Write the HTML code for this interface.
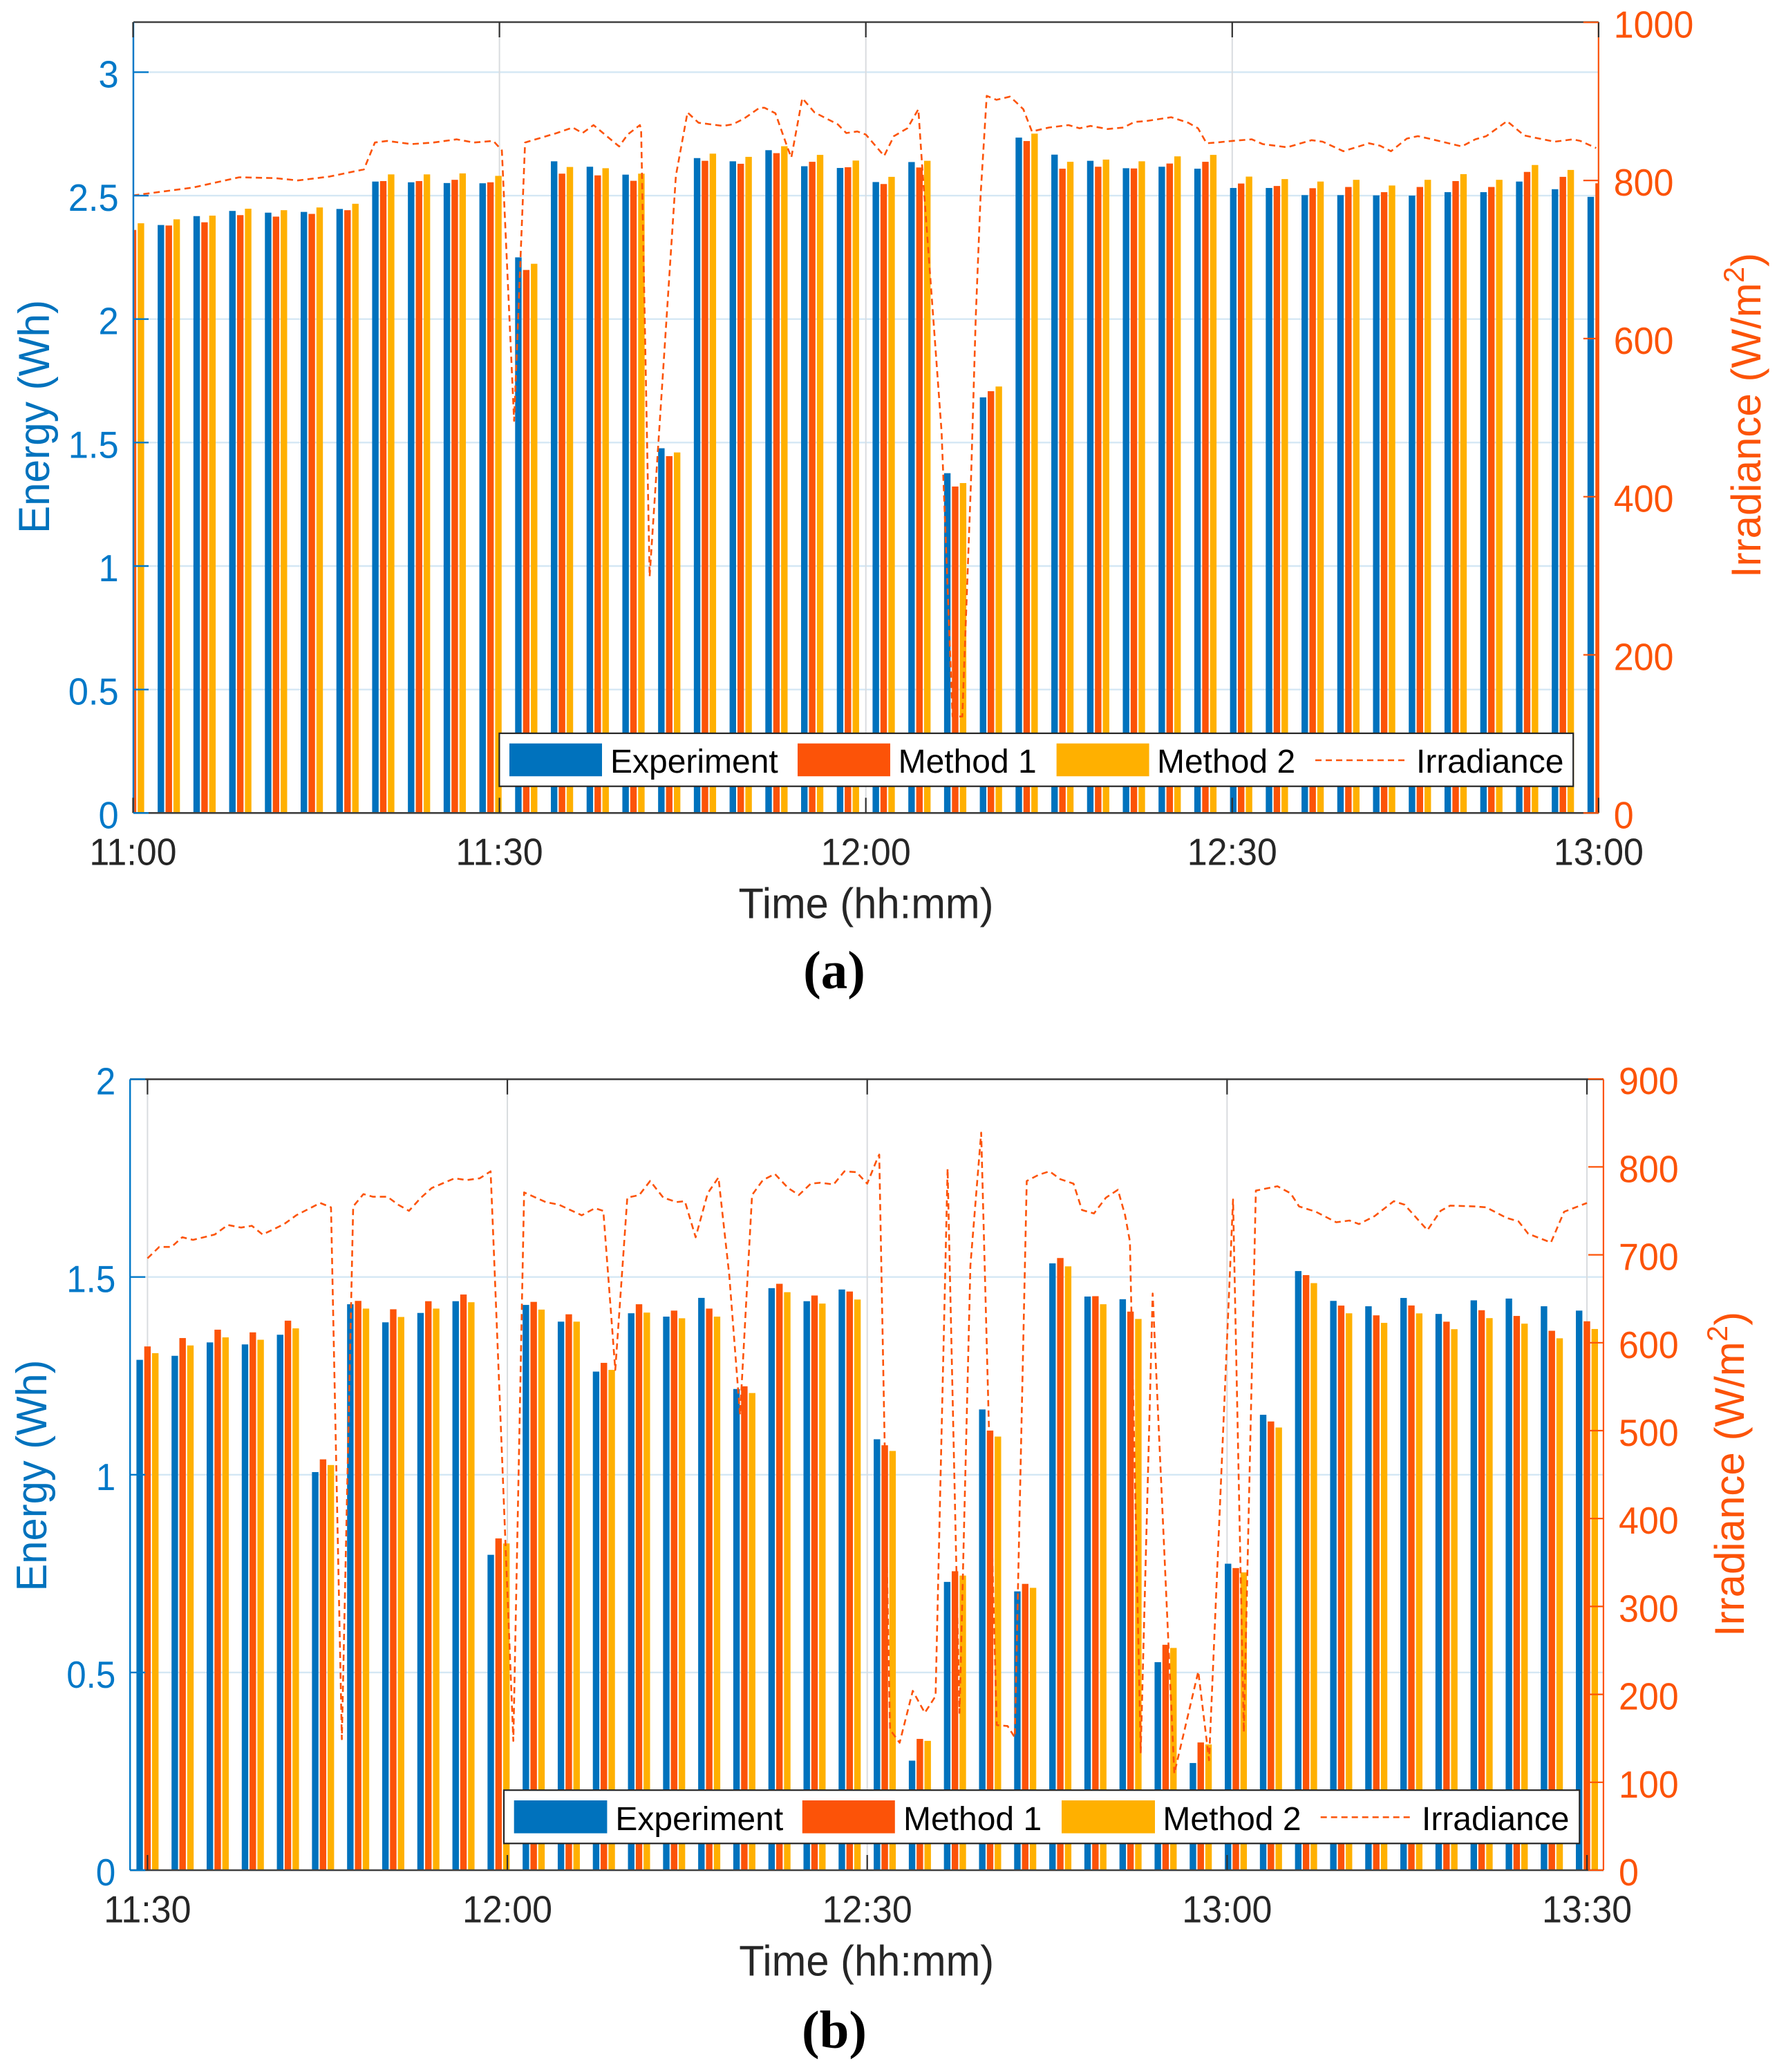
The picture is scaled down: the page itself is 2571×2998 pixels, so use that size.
<!DOCTYPE html>
<html lang="en">
<head>
<meta charset="utf-8">
<title>Energy and irradiance charts</title>
<style>
html,body{margin:0;padding:0;background:#fff;}
svg{display:block;font-family:"Liberation Sans",sans-serif;}
</style>
</head>
<body>
<svg id="figure" xmlns="http://www.w3.org/2000/svg" width="2571" height="2998" viewBox="0 0 2571 2998">
  <rect x="0" y="0" width="2571" height="2998" fill="#fff"/>
  <defs>
    <clipPath id="clip-a"><rect x="192.5" y="32" width="2120.5" height="1144.3"/></clipPath>
    <clipPath id="clip-b"><rect x="188.2" y="1561.6" width="2131.7" height="1144.4"/></clipPath>
  </defs>

  <g id="chart-a"></g>
  <g>
    <text transform="translate(71 603) rotate(-90)" text-anchor="middle" font-size="63" textLength="338" lengthAdjust="spacingAndGlyphs" fill="#0072BD">Energy (Wh)</text>
    <text transform="translate(2547 836) rotate(-90)" font-size="60" fill="#FC5308">Irradiance (W/m<tspan font-size="42" dy="-24">2</tspan><tspan dy="24">)</tspan></text>
    <text x="1253" y="1328.7" text-anchor="middle" font-size="62" textLength="369" lengthAdjust="spacingAndGlyphs" fill="#262626">Time (hh:mm)</text>
    <text x="1207" y="1429.5" text-anchor="middle" font-size="77" fill="#000" style="font-family:'Liberation Serif',serif;font-weight:bold">(a)</text>
  </g>
  <g>
    <rect x="722.4" y="1061" width="1553.8" height="76.7" fill="#fff" stroke="#262626" stroke-width="2.2"/>
    <rect x="737" y="1075.7" width="134" height="47.5" fill="#0072BD"/>
    <text x="883" y="1118" font-size="48" fill="#000">Experiment</text>
    <rect x="1154" y="1075.7" width="134" height="47.5" fill="#FC5308"/>
    <text x="1299.6" y="1118" font-size="48" fill="#000">Method 1</text>
    <rect x="1528.6" y="1075.7" width="134" height="47.5" fill="#FFB000"/>
    <text x="1674" y="1118" font-size="48" fill="#000">Method 2</text>
    <line x1="1903" y1="1100" x2="2033" y2="1100" stroke="#FC5308" stroke-width="2.5" stroke-dasharray="9 6"/>
    <text x="2049" y="1118" font-size="48" fill="#000">Irradiance</text>
  </g>

  <g id="chart-b"></g>
  <g>
    <text transform="translate(67 2135) rotate(-90)" text-anchor="middle" font-size="62" textLength="335" lengthAdjust="spacingAndGlyphs" fill="#0072BD">Energy (Wh)</text>
    <text transform="translate(2523 2368) rotate(-90)" font-size="60" fill="#FC5308">Irradiance (W/m<tspan font-size="42" dy="-24">2</tspan><tspan dy="24">)</tspan></text>
    <text x="1253.7" y="2858.7" text-anchor="middle" font-size="62" textLength="369" lengthAdjust="spacingAndGlyphs" fill="#262626">Time (hh:mm)</text>
    <text x="1207" y="2963" text-anchor="middle" font-size="77" fill="#000" style="font-family:'Liberation Serif',serif;font-weight:bold">(b)</text>
  </g>
  <g>
    <rect x="729" y="2590.2" width="1556.3" height="77.1" fill="#fff" stroke="#262626" stroke-width="2.2"/>
    <rect x="743.7" y="2605" width="134.7" height="47.6" fill="#0072BD"/>
    <text x="890.4" y="2648" font-size="48" fill="#000">Experiment</text>
    <rect x="1160.8" y="2605" width="134" height="47.6" fill="#FC5308"/>
    <text x="1307" y="2648" font-size="48" fill="#000">Method 1</text>
    <rect x="1536" y="2605" width="135" height="47.6" fill="#FFB000"/>
    <text x="1682.4" y="2648" font-size="48" fill="#000">Method 2</text>
    <line x1="1910.7" y1="2629.4" x2="2041.6" y2="2629.4" stroke="#FC5308" stroke-width="2.5" stroke-dasharray="9 6"/>
    <text x="2057" y="2648" font-size="48" fill="#000">Irradiance</text>
  </g>
</svg>

<script>
// ---------- Chart (a) data ----------
const aExperiment = [2.37,2.381,2.417,2.438,2.431,2.434,2.446,2.557,2.554,2.551,2.55,2.25,2.639,2.617,2.585,1.477,2.652,2.639,2.684,2.619,2.612,2.555,2.636,1.376,1.683,2.735,2.666,2.641,2.611,2.617,2.609,2.531,2.531,2.502,2.502,2.501,2.5,2.514,2.514,2.557,2.526,2.495];
const aMethod1 = [2.361,2.379,2.392,2.421,2.415,2.426,2.441,2.559,2.559,2.564,2.554,2.199,2.589,2.582,2.56,1.445,2.641,2.629,2.672,2.637,2.615,2.547,2.614,1.322,1.708,2.721,2.609,2.617,2.61,2.63,2.637,2.549,2.539,2.53,2.535,2.514,2.535,2.559,2.535,2.596,2.576,2.55];
const aMethod2 = [2.388,2.404,2.419,2.447,2.441,2.452,2.467,2.586,2.586,2.59,2.58,2.224,2.616,2.611,2.589,1.46,2.67,2.657,2.7,2.665,2.642,2.576,2.641,1.336,1.727,2.751,2.637,2.646,2.639,2.659,2.665,2.577,2.567,2.557,2.564,2.541,2.564,2.587,2.564,2.624,2.604,2.58];
const aIrrMinutes = [0,4.9,8.7,11.6,13.5,16.1,18.9,19.8,20.8,22.8,24.6,26.5,27.9,29.5,30.2,31.2,32.1,34.7,36,36.8,37.7,39.8,40.5,41.5,41.6,42.3,44.45,45.4,46.3,48.3,49.1,50,51.3,51.7,52.6,53.6,53.9,54.8,55.8,57.7,58.4,59.3,60,61.5,62.3,63.4,64.3,64.6,66.2,67.1,67.9,68.6,69,69.4,69.9,70.7,71.8,72.3,72.9,73.6,75,76.6,77.5,78.4,79.8,81.1,82,82.9,85,86.4,87.2,87.9,88.7,90,91.6,92.5,94.5,96.5,97.4,99.1,101.2,102.1,103,104.3,105.2,106.1,108.8,109.9,110.8,112.5,113.9,114.8,116.4,117.9,118.5,119.8];
const aIrrValues = [781,791,804,803,800,805,814,848,850,846,848,852,848,850,838,496,848,860,867,860,870,843,858,870,864,299,806,886,873,869,871,878,892,892,885,841,829,904,886,871,860,862,858,831,856,866,890,821,482,122,122,416,626,782,907,902,906,899,890,862,867,870,866,869,865,867,874,875,880,873,866,847,848,850,852,846,842,851,849,837,847,844,837,853,856,853,843,852,856,875,857,854,849,852,850,841];
const aTimeLabels = ["11:00","11:30","12:00","12:30","13:00"];
const aEnergyTicks = [0,0.5,1,1.5,2,2.5,3];
const aEnergyTickLabels = ["0","0.5","1","1.5","2","2.5","3"];
const aIrrTicks = [0,200,400,600,800,1000];
const aIrrTickLabels = ["0","200","400","600","800","1000"];

// ---------- Chart (b) data ----------
const bExperiment = [1.2905,1.3007,1.3346,1.3295,1.354,1.0067,1.4311,1.3854,1.4091,1.4388,0.7975,1.4294,1.3871,1.2608,1.4083,1.3998,1.4472,1.2168,1.4718,1.4388,1.4684,1.0897,0.277,0.729,1.1651,0.705,1.5345,1.4506,1.4438,0.526,0.271,0.775,1.1516,1.515,1.4396,1.426,1.447,1.4066,1.441,1.4455,1.426,1.415];
const bMethod1 = [1.3244,1.3456,1.3668,1.36,1.3896,1.0389,1.4396,1.4184,1.4388,1.4557,0.839,1.4371,1.4057,1.2829,1.4311,1.415,1.4201,1.2236,1.4828,1.4532,1.4633,1.0745,0.332,0.756,1.1117,0.724,1.548,1.4515,1.4125,0.57,0.323,0.764,1.1347,1.5048,1.4277,1.403,1.428,1.387,1.416,1.4015,1.364,1.388];
const bMethod2 = [1.3074,1.3269,1.3473,1.3413,1.3701,1.0245,1.4201,1.3989,1.4201,1.4362,0.8262,1.4176,1.3871,1.2651,1.41,1.3956,1.3998,1.2066,1.4616,1.4328,1.443,1.0601,0.327,0.745,1.0965,0.714,1.5269,1.4311,1.3939,0.562,0.318,0.753,1.1194,1.4845,1.4082,1.384,1.408,1.368,1.396,1.382,1.345,1.3685];
const bIrrMinutes = [0,0.98,2,2.9,3.8,5.6,6.7,7.8,8.7,9.6,11.4,12.4,14.4,15.3,16.2,17.15,18,18.8,20,20.9,21.8,22.8,23.7,25.6,26.6,27.7,28.6,28.8,30.5,31.4,33.2,34.3,36.2,37.3,38,39,40,41,41.9,43,44.1,44.8,45.7,46.7,47.6,48.5,49.4,50.4,51.3,52.3,53.4,54.3,55.3,56.1,57.2,58.1,59.1,60,60.8,61,61.9,62.7,63.8,64.8,65.7,66.7,67.7,68.6,69.5,70.8,71.7,72.3,73.3,74.3,75.2,76.1,77.2,77.9,78.9,79.9,80.9,81.5,81.9,82.8,83.8,85.6,87.6,88.5,90.5,91.4,92.4,94.2,95.3,96,97.4,99.1,100.2,101,102.3,103.9,104.8,106.7,107.8,108.6,110.6,111.6,113.3,114.3,115.1,117,118.1,120];
const bIrrValues = [696,709,709,720,717,723,734,731,733,723,735,745,759,754,149,755,769,766,766,757,750,765,776,787,785,787,795,730,147,771,760,757,745,753,750,569,765,768,784,765,760,761,720,770,788,677,518,768,785,792,776,768,781,782,780,795,794,781,808,814,160,145,204,179,198,798,179,688,839,165,164,151,784,791,795,786,781,751,747,765,774,745,715,134,656,110,226,125,763,157,773,778,770,755,749,737,739,735,744,761,757,728,750,756,755,754,742,738,724,714,749,759];
const bTimeLabels = ["11:30","12:00","12:30","13:00","13:30"];
const bEnergyTicks = [0,0.5,1,1.5,2];
const bEnergyTickLabels = ["0","0.5","1","1.5","2"];
const bIrrTicks = [0,100,200,300,400,500,600,700,800,900];
const bIrrTickLabels = ["0","100","200","300","400","500","600","700","800","900"];

const NS = "http://www.w3.org/2000/svg";
const BLUE = "#0072BD", RED = "#FC5308", YELLOW = "#FFB000";

function mk(parent, tag, attrs) {
  const el = document.createElementNS(NS, tag);
  for (const key in attrs) { el.setAttribute(key, attrs[key]); }
  parent.appendChild(el);
  return el;
}

// Tall, slightly condensed glyphs as in the reference.
function condense(el, ratio) {
  el.setAttribute('textLength', (el.getComputedTextLength() * ratio).toFixed(1));
  el.setAttribute('lengthAdjust', 'spacingAndGlyphs');
}

function drawChart(g, c) {
  const xMinute = function (m) { return c.x0 + m * c.pxPerMinute; };
  const yEnergy = function (v) { return c.yBottom - v * c.pxPerEnergy; };
  const yIrr = function (v) { return c.yBottom - v * c.pxPerIrr; };

  // horizontal grid lines
  c.energyTicks.forEach(function (v) {
    if (v === 0) return;
    const gl = mk(g, "line", {x1: c.left, x2: c.right, y1: yEnergy(v), y2: yEnergy(v), stroke: "#d4e7f4", "stroke-width": 2.4});
    
    
  });
  // vertical grid lines
  c.timeLabels.forEach(function (label, i) {
    const gv = mk(g, "line", {x1: xMinute(i * 30), x2: xMinute(i * 30), y1: c.top, y2: c.yBottom, stroke: "#d9dcdf", "stroke-width": 2});
    
    
  });

  // bars
  const barGroup = mk(g, "g", {"clip-path": "url(#" + c.clip + ")"});
  
  
  const groupStep = 120 / (c.experiment.length - 1);
  const seriesList = [
    {values: c.experiment, color: BLUE, offset: -1},
    {values: c.method1, color: RED, offset: 0},
    {values: c.method2, color: YELLOW, offset: 1}
  ];
  seriesList.forEach(function (s) {
    s.values.forEach(function (v, k) {
      const cx = xMinute(k * groupStep) + s.offset * c.barPitch;
      const bar = mk(barGroup, "rect", {x: cx - c.barWidth / 2, y: yEnergy(v), width: c.barWidth, height: c.yBottom - yEnergy(v), fill: s.color});
      
      
    });
  });

  // irradiance line
  let pts = "";
  c.irrMinutes.forEach(function (m, i) {
    pts += xMinute(m).toFixed(1) + "," + yIrr(c.irrValues[i]).toFixed(1) + " ";
  });
  const line = mk(g, "polyline", {points: pts.trim(), fill: "none", stroke: RED, "stroke-width": 2.6, "stroke-dasharray": "9 6", "stroke-linejoin": "round", "clip-path": "url(#" + c.clip + ")"});
  
  

  // frame
  const topAxis = mk(g, "line", {x1: c.left, x2: c.right, y1: c.top, y2: c.top, stroke: "#404040", "stroke-width": 2.6});
  
  
  const bottomAxis = mk(g, "line", {x1: c.left, x2: c.right, y1: c.yBottom, y2: c.yBottom, stroke: "#404040", "stroke-width": 2.6});
  
  
  const leftAxis = mk(g, "line", {x1: c.left, x2: c.left, y1: c.top, y2: c.yBottom, stroke: "#0078C8", "stroke-width": 2.4});
  
  
  const rightAxis = mk(g, "line", {x1: c.right, x2: c.right, y1: c.top, y2: c.yBottom, stroke: RED, "stroke-width": 2.2});
  
  

  // x ticks and labels
  c.timeLabels.forEach(function (label, i) {
    const x = xMinute(i * 30);
    const tTop = mk(g, "line", {x1: x, x2: x, y1: c.top, y2: c.top + 22, stroke: "#303030", "stroke-width": 2.2});
    
    
    const tBottom = mk(g, "line", {x1: x, x2: x, y1: c.yBottom, y2: c.yBottom - 22, stroke: "#303030", "stroke-width": 2.2});
    
    
    const tl = mk(g, "text", {x: x, y: c.xLabelY, "text-anchor": "middle", "font-size": 55, fill: "#262626"});
    
    
    tl.textContent = label;
    condense(tl, 0.945);
  });

  // left ticks
  c.energyTicks.forEach(function (v, i) {
    const y = yEnergy(v);
    const tk = mk(g, "line", {x1: c.left, x2: c.left + 22, y1: y, y2: y, stroke: "#0078C8", "stroke-width": 2.4});
    
    
    const lb = mk(g, "text", {x: c.leftLabelX, y: y + 22, "text-anchor": "end", "font-size": 55, fill: "#0078C8"});
    
    
    lb.textContent = c.energyTickLabels[i];
    condense(lb, c.tickRatio);
  });

  // right ticks
  c.irrTicks.forEach(function (v, i) {
    const y = yIrr(v);
    const tk = mk(g, "line", {x1: c.right, x2: c.right - 22, y1: y, y2: y, stroke: RED, "stroke-width": 2.2});
    
    
    const lb = mk(g, "text", {x: c.rightLabelX, y: y + 22, "font-size": 55, fill: RED});
    
    
    lb.textContent = c.irrTickLabels[i];
    condense(lb, 0.945);
  });
}

drawChart(document.getElementById("chart-a"), {
  experiment: aExperiment, method1: aMethod1, method2: aMethod2,
  irrMinutes: aIrrMinutes, irrValues: aIrrValues,
  timeLabels: aTimeLabels, energyTicks: aEnergyTicks, energyTickLabels: aEnergyTickLabels,
  irrTicks: aIrrTicks, irrTickLabels: aIrrTickLabels,
  x0: 192.5, pxPerMinute: 17.67, left: 193, right: 2312.8, top: 32, yBottom: 1176.3,
  pxPerEnergy: 357.3, pxPerIrr: 1.144, barWidth: 9.4, barPitch: 11.4,
  clip: "clip-a", xLabelY: 1251.6, leftLabelX: 171.7, rightLabelX: 2334.7, tickRatio: 0.955
});

drawChart(document.getElementById("chart-b"), {
  experiment: bExperiment, method1: bMethod1, method2: bMethod2,
  irrMinutes: bIrrMinutes, irrValues: bIrrValues,
  timeLabels: bTimeLabels, energyTicks: bEnergyTicks, energyTickLabels: bEnergyTickLabels,
  irrTicks: bIrrTicks, irrTickLabels: bIrrTickLabels,
  x0: 213.4, pxPerMinute: 17.355, left: 188.2, right: 2319.9, top: 1561.6, yBottom: 2706,
  pxPerEnergy: 572.2, pxPerIrr: 1.272, barWidth: 9.4, barPitch: 11.3,
  clip: "clip-b", xLabelY: 2781.7, leftLabelX: 167.3, rightLabelX: 2342, tickRatio: 0.93
});
</script>
</body>
</html>
